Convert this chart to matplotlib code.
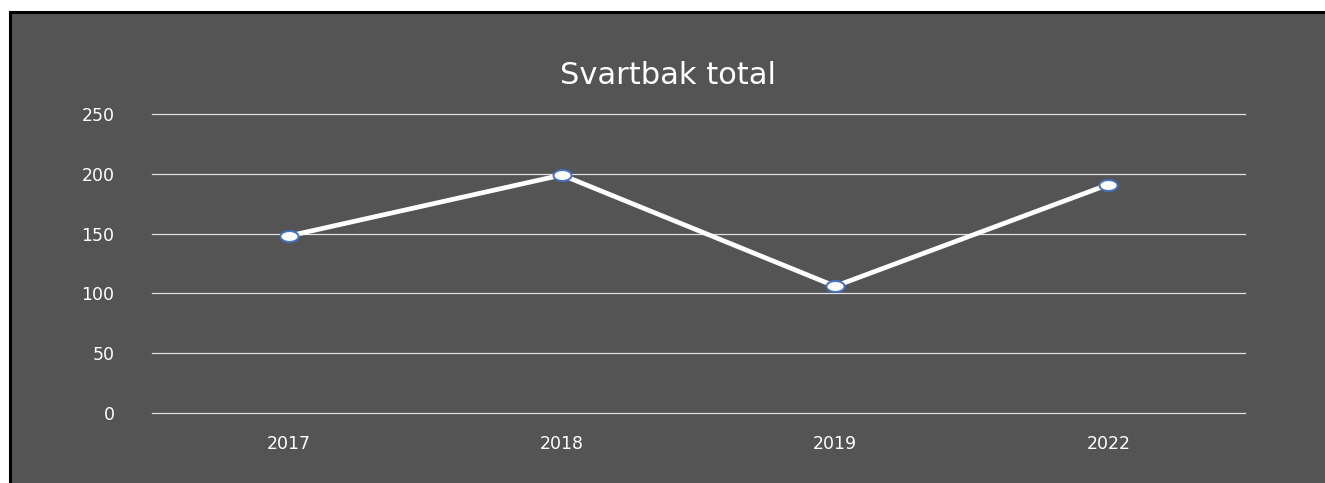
import matplotlib
matplotlib.use('Agg')
import matplotlib.pyplot as plt
from matplotlib.patches import Rectangle
from matplotlib.path import Path
import numpy as np

years = ['2017', '2018', '2019', '2022']
totals = [148, 199, 106, 191]
yticks = [0, 50, 100, 150, 200, 250]
title = 'Svartbak total'

W, H = 1325, 483
bg = '#545454'

plt.rcParams['font.family'] = ['DejaVu Sans']

fig = plt.figure(figsize=(W / 100, H / 100), dpi=100)
fig.patch.set_facecolor('white')

# dark chart area with black frame on the left/top
fig.patches.append(Rectangle((10.5 / W, -0.05), 1.1, (H - 11.5) / H + 0.05,
                             transform=fig.transFigure, facecolor=bg,
                             edgecolor='black', linewidth=2.2, zorder=0))

ax = fig.add_axes([152 / W, 1 - 413 / H, (1245 - 152) / W, (413 - 114) / H])
ax.set_zorder(2)
ax.set_facecolor('none')
for s in ax.spines.values():
    s.set_visible(False)

x = np.arange(len(years))

# oval marker like the original
t = np.linspace(0, 2 * np.pi, 60)
oval = Path(np.column_stack([np.cos(t), 0.6 * np.sin(t)]), closed=True)

ax.plot(x, totals, color='white', linewidth=3.4, marker=oval,
        markersize=13, markerfacecolor='white', markeredgecolor='#4472C4',
        markeredgewidth=1.4, zorder=3, solid_capstyle='round')

ax.set_xlim(-0.5, len(years) - 0.5)
ax.set_ylim(0, 250)
ax.set_yticks(yticks)
ax.set_xticks(x)
ax.set_xticklabels(years)
ax.yaxis.grid(True, color='#e0e0e0', linewidth=0.9)
for gl in ax.get_ygridlines():
    gl.set_clip_on(False)
ax.set_axisbelow(True)
ax.tick_params(axis='both', length=0, colors='white', labelsize=12.5)
ax.tick_params(axis='y', pad=27)
ax.tick_params(axis='x', pad=16)

fig.text(668 / W, 1 - 75 / H, title, color='white', fontsize=22,
         ha='center', va='center', zorder=3)

fig.savefig('out.png', dpi=100)
